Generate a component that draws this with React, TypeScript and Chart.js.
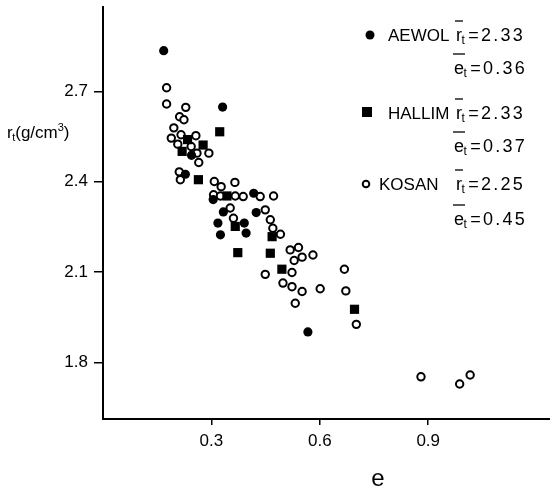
import React, { useEffect, useRef } from "react";
import { Chart, registerables } from "chart.js";

Chart.register(...registerables);

// ---- data (e, r_t) ----
const aewolE = [0.168, 0.331, 0.245, 0.228, 0.305, 0.417, 0.333, 0.424, 0.318, 0.391, 0.325, 0.396, 0.567];
const aewolR = [2.835, 2.648, 2.488, 2.425, 2.341, 2.362, 2.300, 2.298, 2.263, 2.263, 2.224, 2.230, 1.902];

const hallimE = [0.323, 0.234, 0.277, 0.219, 0.264, 0.343, 0.366, 0.468, 0.373, 0.463, 0.495, 0.696];
const hallimR = [2.566, 2.540, 2.522, 2.501, 2.407, 2.353, 2.252, 2.218, 2.165, 2.163, 2.110, 1.977];

const kosanE = [
  0.176, 0.176, 0.229, 0.212, 0.224, 0.196, 0.216, 0.257, 0.189, 0.207, 0.244, 0.260, 0.293, 0.265,
  0.211, 0.214, 0.308, 0.365, 0.327, 0.306, 0.325, 0.366, 0.388, 0.435, 0.472, 0.352, 0.449, 0.361,
  0.463, 0.470, 0.491, 0.518, 0.541, 0.529, 0.551, 0.581, 0.449, 0.523, 0.498, 0.523, 0.551, 0.601,
  0.532, 0.668, 0.672, 0.701, 0.880, 0.987, 1.016,
];
const kosanR = [
  2.712, 2.658, 2.647, 2.616, 2.606, 2.579, 2.556, 2.553, 2.545, 2.525, 2.517, 2.495, 2.495, 2.464,
  2.433, 2.407, 2.401, 2.398, 2.384, 2.357, 2.353, 2.353, 2.351, 2.351, 2.353, 2.313, 2.307, 2.279,
  2.274, 2.246, 2.226, 2.174, 2.182, 2.139, 2.150, 2.157, 2.093, 2.099, 2.064, 2.052, 2.036, 2.045,
  1.997, 2.110, 2.038, 1.927, 1.753, 1.729, 1.759,
];

const xTicks = [0.3, 0.6, 0.9];
const yTicks = [1.8, 2.1, 2.4, 2.7];

const legendNames = ["AEWOL", "HALLIM", "KOSAN"];
const legendMeanR = ["2.33", "2.33", "2.25"];
const legendMeanE = ["0.36", "0.37", "0.45"];

const FONT = "'Liberation Sans', Arial, Helvetica, sans-serif";

function toPts(xs: number[], ys: number[]) {
  return xs.map((x, i) => ({ x, y: ys[i] }));
}

function drawMean(ctx: CanvasRenderingContext2D, x: number, base: number, letter: string, val: string) {
  ctx.font = `18px ${FONT}`;
  ctx.textBaseline = "alphabetic";
  ctx.textAlign = "left";
  ctx.fillText(letter, x, base);
  const w = ctx.measureText(letter).width;
  ctx.font = `12px ${FONT}`;
  ctx.fillText("t", x + w - 0.5, base + 3);
  const tw = ctx.measureText("t").width;
  // overline
  ctx.lineWidth = 1.3;
  ctx.beginPath();
  ctx.moveTo(x - 1, base - 20);
  ctx.lineTo(x + w + 1, base - 20);
  ctx.stroke();
  ctx.font = `18px ${FONT}`;
  (ctx as any).letterSpacing = "2.2px";
  ctx.fillText("=" + val, x + w + tw + 3, base);
  (ctx as any).letterSpacing = "0px";
}

const annotPlugin = {
  id: "annot",
  afterDraw(chart: any) {
    const ctx: CanvasRenderingContext2D = chart.ctx;
    ctx.save();
    ctx.fillStyle = "#000";
    ctx.strokeStyle = "#000";

    // y-axis title r_t(g/cm^3)
    let x = 7;
    const yb = 138;
    ctx.textBaseline = "alphabetic";
    ctx.textAlign = "left";
    ctx.font = `17px ${FONT}`;
    ctx.fillText("r", x, yb);
    x += ctx.measureText("r").width - 0.5;
    ctx.font = `11px ${FONT}`;
    ctx.fillText("t", x, yb + 3);
    x += ctx.measureText("t").width;
    ctx.font = `17px ${FONT}`;
    ctx.fillText("(g/cm", x, yb);
    x += ctx.measureText("(g/cm").width;
    ctx.font = `11px ${FONT}`;
    ctx.fillText("3", x, yb - 7);
    x += ctx.measureText("3").width;
    ctx.font = `17px ${FONT}`;
    ctx.fillText(")", x, yb);

    // x-axis title
    ctx.font = `24px ${FONT}`;
    ctx.textAlign = "center";
    ctx.fillText("e", 378, 486);

    // legend
    const markerY = [35, 112, 184];
    const nameBase = [41, 119, 190];
    const eBase = [74, 152, 225];
    for (let i = 0; i < 3; i++) {
      const my = markerY[i];
      ctx.lineWidth = 2;
      if (i === 0) {
        ctx.beginPath();
        ctx.arc(370, my, 4.5, 0, Math.PI * 2);
        ctx.fill();
      } else if (i === 1) {
        ctx.fillRect(362, my - 5, 10, 10);
      } else {
        ctx.beginPath();
        ctx.arc(366, my, 3.3, 0, Math.PI * 2);
        ctx.stroke();
      }
      ctx.font = `17px ${FONT}`;
      ctx.textAlign = "left";
      ctx.fillText(legendNames[i], i === 2 ? 379 : 388, nameBase[i]);
      drawMean(ctx, 456, nameBase[i], "r", legendMeanR[i]);
      drawMean(ctx, 454, eBase[i], "e", legendMeanE[i]);
    }
    ctx.restore();
  },
};

function zeroPad(s: any) {
  s.paddingTop = 0;
  s.paddingBottom = 0;
  s.paddingLeft = 0;
  s.paddingRight = 0;
}

export default function App() {
  const ref = useRef<HTMLCanvasElement>(null);
  useEffect(() => {
    if (!ref.current) return;
    const chart = new Chart(ref.current, {
      type: "scatter",
      data: {
        datasets: [
          {
            label: "AEWOL",
            data: toPts(aewolE, aewolR),
            pointStyle: "circle",
            pointRadius: 4.6,
            backgroundColor: "#000",
            borderColor: "#000",
            borderWidth: 0,
          },
          {
            label: "HALLIM",
            data: toPts(hallimE, hallimR),
            pointStyle: "rect",
            pointRadius: 6.5,
            backgroundColor: "#000",
            borderColor: "#000",
            borderWidth: 0,
          },
          {
            label: "KOSAN",
            data: toPts(kosanE, kosanR),
            pointStyle: "circle",
            pointRadius: 3.7,
            backgroundColor: "#fff",
            borderColor: "#000",
            borderWidth: 2,
          },
        ],
      },
      options: {
        animation: false,
        responsive: false,
        maintainAspectRatio: false,
        layout: { autoPadding: false, padding: { top: 7, right: 0, left: 0, bottom: 0 } },
        plugins: { legend: { display: false }, tooltip: { enabled: false } },
        scales: {
          x: {
            type: "linear",
            min: 0,
            max: 1.237,
            afterFit: (s: any) => {
              s.height = 72;
              zeroPad(s);
            },
            afterBuildTicks: (s: any) => {
              s.ticks = xTicks.map((v) => ({ value: v }));
            },
            border: { display: true, color: "#000", width: 2 },
            grid: { display: true, drawOnChartArea: false, drawTicks: true, tickLength: 6, color: "#000", lineWidth: 1.5 },
            ticks: {
              color: "#000",
              font: { family: FONT, size: 17 },
              padding: 6,
              maxRotation: 0,
              callback: (v: any) => Number(v).toFixed(1),
            },
          },
          y: {
            type: "linear",
            min: 1.613,
            max: 2.98,
            afterFit: (s: any) => {
              s.width = 103;
              zeroPad(s);
            },
            afterBuildTicks: (s: any) => {
              s.ticks = yTicks.map((v) => ({ value: v }));
            },
            border: { display: true, color: "#000", width: 2 },
            grid: { display: true, drawOnChartArea: false, drawTicks: true, tickLength: 9, color: "#000", lineWidth: 1.5 },
            ticks: {
              color: "#000",
              font: { family: FONT, size: 17 },
              padding: 6,
              callback: (v: any) => Number(v).toFixed(1),
            },
          },
        },
      },
      plugins: [annotPlugin],
    });
    return () => chart.destroy();
  }, []);
  return (
    <div style={{ position: "fixed", left: 0, top: 0, width: 550, height: 491, background: "#fff" }}>
      <canvas ref={ref} width={550} height={491} style={{ display: "block" }} />
    </div>
  );
}
